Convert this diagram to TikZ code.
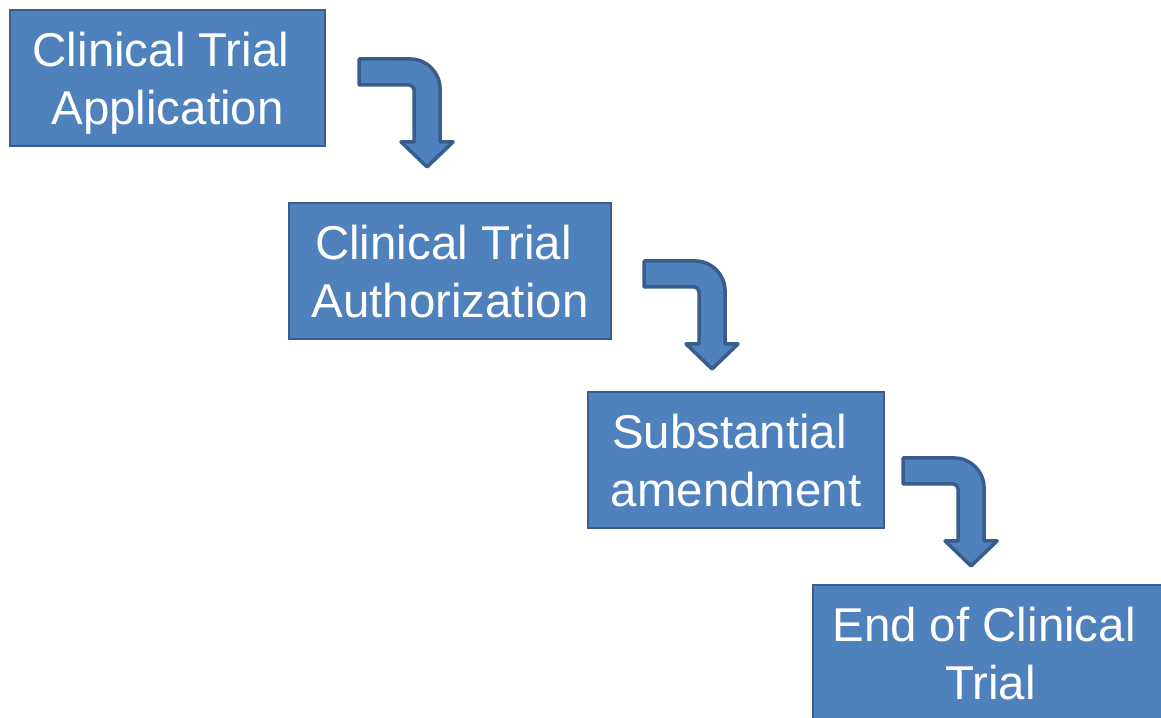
\documentclass[tikz,border=0pt]{standalone}
\usepackage{fontspec}
\setmainfont{Liberation Sans}
\definecolor{stepfill}{HTML}{4F81BD}
\definecolor{stepline}{HTML}{385D8A}

\tikzset{
  stepbox/.style={draw=stepline, line width=1.2pt, fill=stepfill, text=white,
    align=center, inner sep=0pt, minimum height=2.72cm, text depth=0pt,
    font=\fontsize{27}{33}\selectfont},
  bentarrow/.pic={
    \filldraw[fill=stepfill, draw=stepline, line width=2pt, line join=round]
      (0,0) -- (1.02,0) arc[start angle=90, end angle=0, radius=0.6]
      -- (1.62,-1.66) -- (1.88,-1.66) -- (1.36,-2.16) -- (0.84,-1.66)
      -- (1.1,-1.66) -- (1.1,-0.62) arc[start angle=0, end angle=90, radius=0.1]
      -- (0,-0.52) -- cycle;
  }
}
\newcommand{\trail}{\hspace*{0.26cm}}

\begin{document}
\begin{tikzpicture}
  \useasboundingbox (0,0) rectangle (23.22,-14.34);
  \clip (0,0) rectangle (23.22,-14.34);
  \node[stepbox, minimum width=6.3cm] (ctapp) at (3.35cm,-1.56cm) {Clinical Trial\trail\\Application};
  \node[stepbox, minimum width=6.44cm] (ctauth) at (9cm,-5.42cm) {Clinical Trial\trail\\Authorization};
  \node[stepbox, minimum width=5.92cm] (subam) at (14.72cm,-9.2cm) {Substantial\trail\\amendment};
  \node[stepbox, minimum width=7.1cm] (endct) at (19.81cm,-13.06cm) {End of Clinical\trail\\Trial};
  \pic at ([xshift=0.66cm, yshift=-1cm]ctapp.north east) {bentarrow};
  \pic at ([xshift=0.64cm, yshift=-1.18cm]ctauth.north east) {bentarrow};
  \pic at ([xshift=0.36cm, yshift=-1.34cm]subam.north east) {bentarrow};
\end{tikzpicture}
\end{document}
